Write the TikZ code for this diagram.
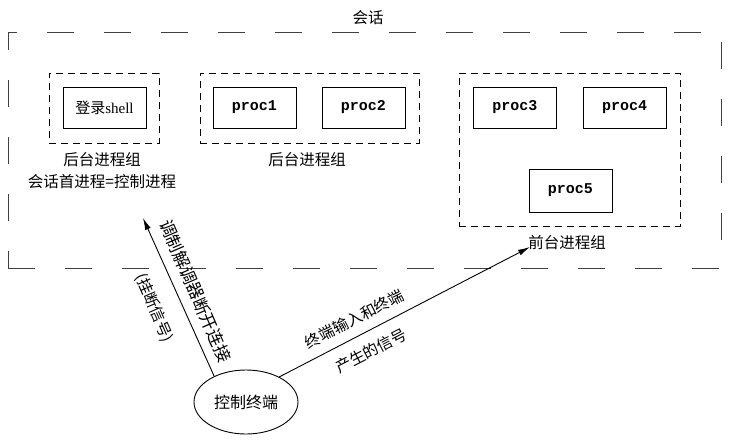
\documentclass[tikz,border=0pt]{standalone}
\usepackage{fontspec}
\setmainfont{Noto Sans CJK SC}
\newfontfamily\monof{Liberation Mono}
\newfontfamily\latf{Liberation Serif}
\usetikzlibrary{arrows.meta,shapes.geometric}
\tikzset{
  procbox/.style={draw, line width=0.9pt, minimum width=83pt, minimum height=41pt, inner sep=0pt, font=\monof\bfseries\fontsize{15}{15}\selectfont},
  grp/.style={draw, line width=0.9pt, dash pattern=on 7pt off 5pt, inner sep=0pt},
  outer/.style={draw=black!75, line width=1pt, dash pattern=on 27pt off 30pt, inner sep=0pt},
  lbl/.style={font=\fontsize{15.5}{15.5}\selectfont, inner sep=0pt},
  arr/.style={line width=0.9pt, -{Latex[length=12pt,width=6pt]}},
}
\begin{document}
\begin{tikzpicture}[x=1pt,y=-1pt]
\path[fill=white] (0,0) rectangle (732,440);
\useasboundingbox (0,0) rectangle (732,440);
% outer session box
\node[outer, minimum width=713pt, minimum height=236pt] (sess) at (364.5,150) {};
\node[lbl] (sesslbl) at (368,18) {会话};
% groups
\node[grp, minimum width=110pt, minimum height=70pt] (g1) at (104,108) {};
\node[grp, minimum width=219pt, minimum height=70pt] (g2) at (309.5,108) {};
\node[grp, minimum width=221pt, minimum height=153pt] (g3) at (569.5,149.5) {};
% processes
\node[procbox, font=\fontsize{15}{15}\selectfont] (shell) at (104.5,107.5) {登录{\latf shell}};
\node[procbox] (p1) at (254.5,107.5) {proc1};
\node[procbox] (p2) at (363.5,107.5) {proc2};
\node[procbox] (p3) at (515,107.5) {proc3};
\node[procbox] (p4) at (624.5,107.5) {proc4};
\node[procbox, minimum height=43pt] (p5) at (570.5,190.5) {proc5};
% group labels
\node[lbl] (l1) at (102,160) {后台进程组};
\node[lbl] (l1b) at (102,182) {会话首进程=控制进程};
\node[lbl] (l2) at (307,160) {后台进程组};
\node[lbl] (l3) at (567,243) {前台进程组};
% terminal
\node[ellipse, draw, line width=0.9pt, minimum width=104pt, minimum height=64pt, inner sep=0pt, font=\fontsize{16}{16}\selectfont] (term) at (246,402) {控制终端};
\coordinate (tip1) at (143,218);
\coordinate (tip2) at (530,247);
\draw[arr] (term.141) -- (tip1);
\draw[arr] (term.37) -- (tip2);
% arrow labels
\node[lbl, rotate=-66.6, font=\fontsize{17}{17}\selectfont] (a1) at (195.5,291) {调制解调器断开连接};
\node[lbl, rotate=-66.6] (a1b) at (154,308) {(挂断信号)};
\node[lbl, rotate=27.2] (a2) at (354.5,319) {终端输入和终端};
\node[lbl, rotate=27.2] (a2b) at (371,351) {产生的信号};
\end{tikzpicture}
\end{document}
